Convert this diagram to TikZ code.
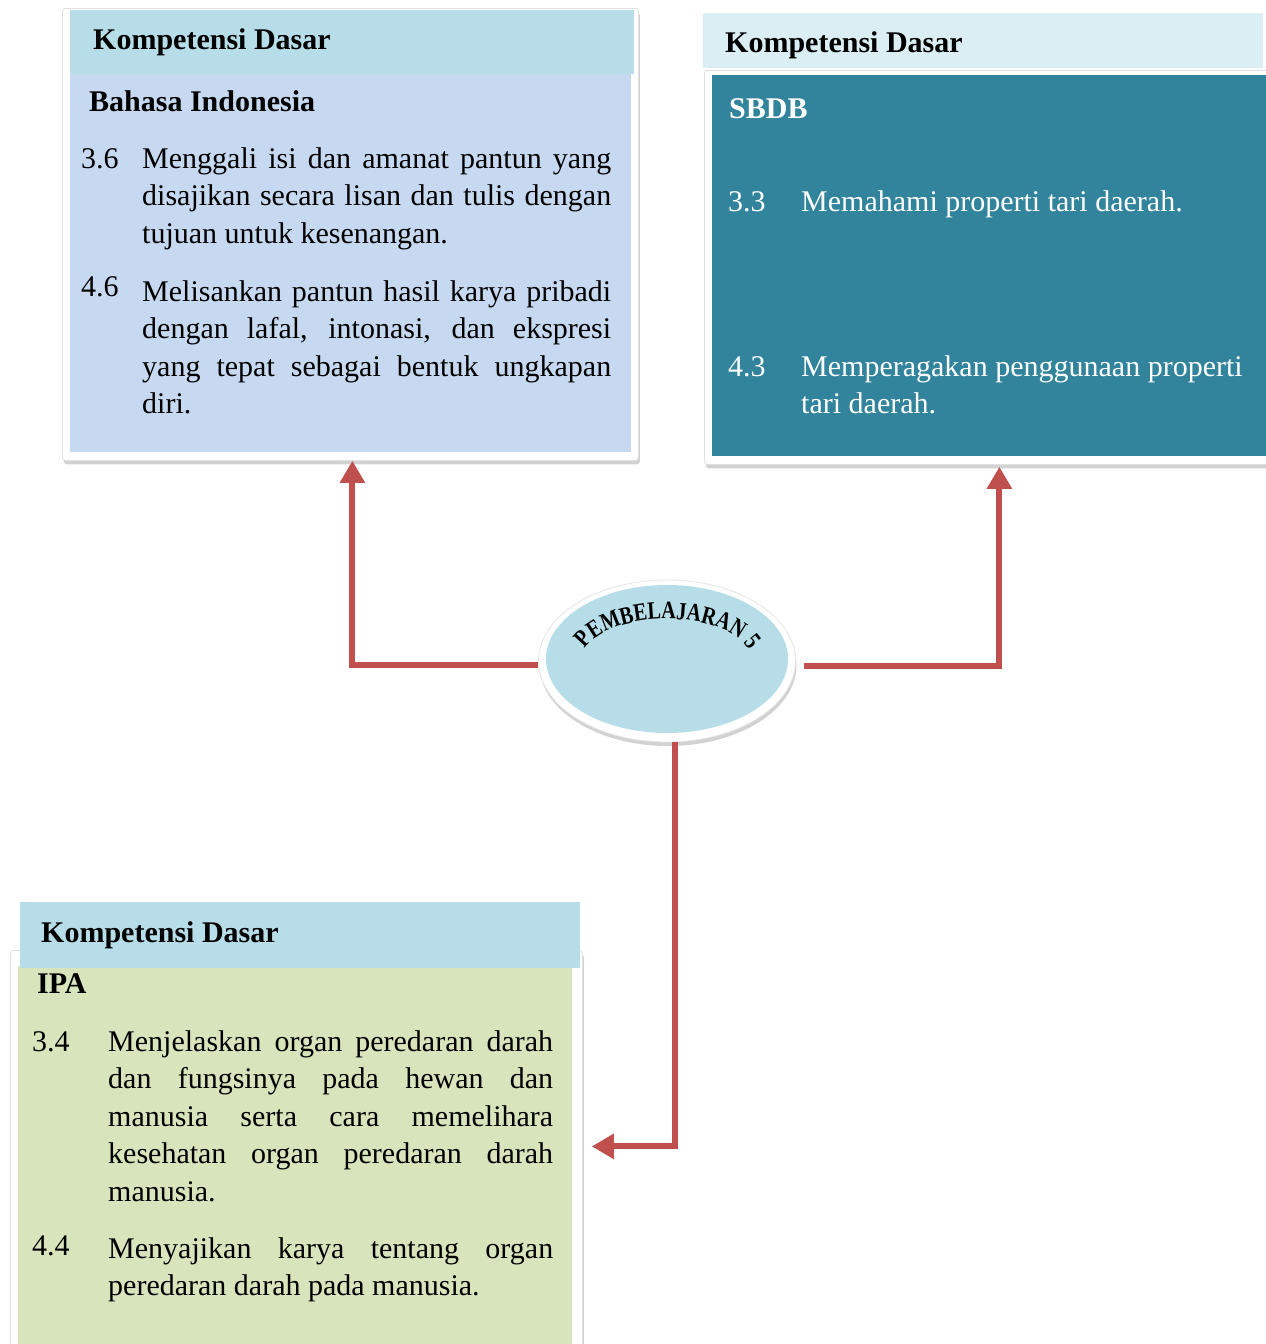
\documentclass[tikz,border=0pt]{standalone}
\usepackage{fontspec}
\setmainfont{Liberation Serif}
\newfontfamily\arcfont[FakeStretch=0.8]{Liberation Serif}
\usetikzlibrary{arrows.meta,shadows,decorations.text,shapes.geometric}
\definecolor{hdrblue}{HTML}{B7DDE8}
\definecolor{bodyblue}{HTML}{C6D9F0}
\definecolor{hdrpale}{HTML}{DAEEF3}
\definecolor{sbteal}{HTML}{31849B}
\definecolor{ipagreen}{HTML}{D7E4BC}
\definecolor{arrowred}{HTML}{C0504D}
\newcommand{\jline}[2]{\makebox[#1][s]{\spaceskip=0pt\xspaceskip=0pt #2}}
\begin{document}
\begin{tikzpicture}[x=1pt,y=-1pt,
  frame/.style={fill=white, draw=black!12, line width=0.8pt, rounded corners=3pt,
    drop shadow={shadow xshift=1.5pt, shadow yshift=-4pt, opacity=0.35},
    inner sep=0pt, anchor=north west},
  panel/.style={inner sep=0pt, anchor=north west, draw=none},
  ttl/.style={font=\bfseries\fontsize{30}{36}\selectfont, anchor=base west, inner sep=0pt},
  txt/.style={font=\fontsize{30}{37.5}\selectfont, anchor=base west, inner sep=0pt},
  para/.style={txt, text width=#1, align=flush left},
  conn/.style={draw=arrowred, line width=6pt, -{Triangle[length=22pt,width=24pt]}}
]
\useasboundingbox (0,0) rectangle (1266,1344);
\fill[white] (0,0) rectangle (1266,1344);

% ---------- Box 1: Bahasa Indonesia ----------
\node[frame, minimum width=576pt, minimum height=452pt] (f1) at (62,8) {};
\node[panel, fill=hdrblue, minimum width=564pt, minimum height=64pt] (h1) at (70,10) {};
\node[panel, fill=bodyblue, minimum width=561pt, minimum height=378pt] (b1) at (70,74) {};
\node[ttl] (t1) at (93,49) {Kompetensi Dasar};
\node[ttl] (s1) at (89,111) {Bahasa Indonesia};
\node[txt] (n36) at (81,168) {3.6};
\node[para=469pt] (p36) at (142,168) {\jline{469pt}{Menggali isi dan amanat pantun yang}\\
  \jline{469pt}{disajikan secara lisan dan tulis dengan}\\ tujuan untuk kesenangan.};
\node[txt] (n46) at (81,296) {4.6};
\node[para=469pt] (p46) at (142,301) {\jline{469pt}{Melisankan pantun hasil karya pribadi}\\
  \jline{469pt}{dengan lafal, intonasi, dan ekspresi}\\
  \jline{469pt}{yang tepat sebagai bentuk ungkapan}\\ diri.};

% ---------- Box 2: SBDB ----------
\node[panel, fill=hdrpale, minimum width=560pt, minimum height=55pt] (h2) at (703,13) {};
\node[frame, minimum width=570pt, minimum height=394pt] (f2) at (704,70) {};
\node[panel, fill=sbteal, minimum width=560pt, minimum height=381pt] (b2) at (712,75) {};
\node[ttl] (t2) at (725,52) {Kompetensi Dasar};
\node[ttl, text=white] (s2) at (729,118) {SBDB};
\node[txt, text=white] (n33) at (728,211) {3.3};
\node[txt, text=white] (p33) at (801,211) {Memahami properti tari daerah.};
\node[txt, text=white] (n43) at (728,376) {4.3};
\node[para=460pt, text=white] (p43) at (801,376) {Memperagakan penggunaan properti\\ tari daerah.};

% ---------- Box 3: IPA ----------
\node[frame, minimum width=572pt, minimum height=400pt] (f3) at (10,950) {};
\node[panel, fill=ipagreen, minimum width=554pt, minimum height=390pt] (b3) at (18,966) {};
\node[panel, fill=hdrblue, minimum width=560pt, minimum height=66pt] (h3) at (20,902) {};
\node[ttl] (t3) at (41,942) {Kompetensi Dasar};
\node[ttl] (s3) at (37,993) {IPA};
\node[txt] (n34) at (32,1051) {3.4};
\node[para=445pt] (p34) at (108,1051) {\jline{445pt}{Menjelaskan organ peredaran darah}\\
  \jline{445pt}{dan fungsinya pada hewan dan}\\
  \jline{445pt}{manusia serta cara memelihara}\\
  \jline{445pt}{kesehatan organ peredaran darah}\\ manusia.};
\node[txt] (n44) at (32,1255) {4.4};
\node[para=445pt] (p44) at (108,1258) {\jline{445pt}{Menyajikan karya tentang organ}\\ peredaran darah pada manusia.};

% ---------- Centre ellipse ----------
\node[ellipse, fill=white, draw=black!10, line width=0.8pt, minimum width=257pt, minimum height=162pt,
  inner sep=0pt, drop shadow={shadow xshift=1pt, shadow yshift=-4pt, opacity=0.35}] (pb) at (667,661) {};
\node[ellipse, fill=hdrblue, minimum width=242pt, minimum height=148pt, inner sep=0pt] (pbin) at (667,659) {};
\path[decorate, decoration={text along path, text align=center,
    text={|\arcfont\bfseries\fontsize{25}{25}\selectfont|PEMBELAJARAN 5}}]
  (667,662) ++(196:86 and 43) arc[start angle=196, end angle=346, x radius=86, y radius=43];

% ---------- Connectors ----------
\draw[conn] ([yshift=-4pt]pb.west) -| ([xshift=2pt]f1.south);
\draw[conn] ([xshift=8pt,yshift=-5pt]pb.east) -| ([xshift=10pt,yshift=-2pt]f2.south);
\draw[conn] ([xshift=8pt]pb.south) |- ([xshift=9pt,yshift=4pt]f3.east);
\end{tikzpicture}
\end{document}
